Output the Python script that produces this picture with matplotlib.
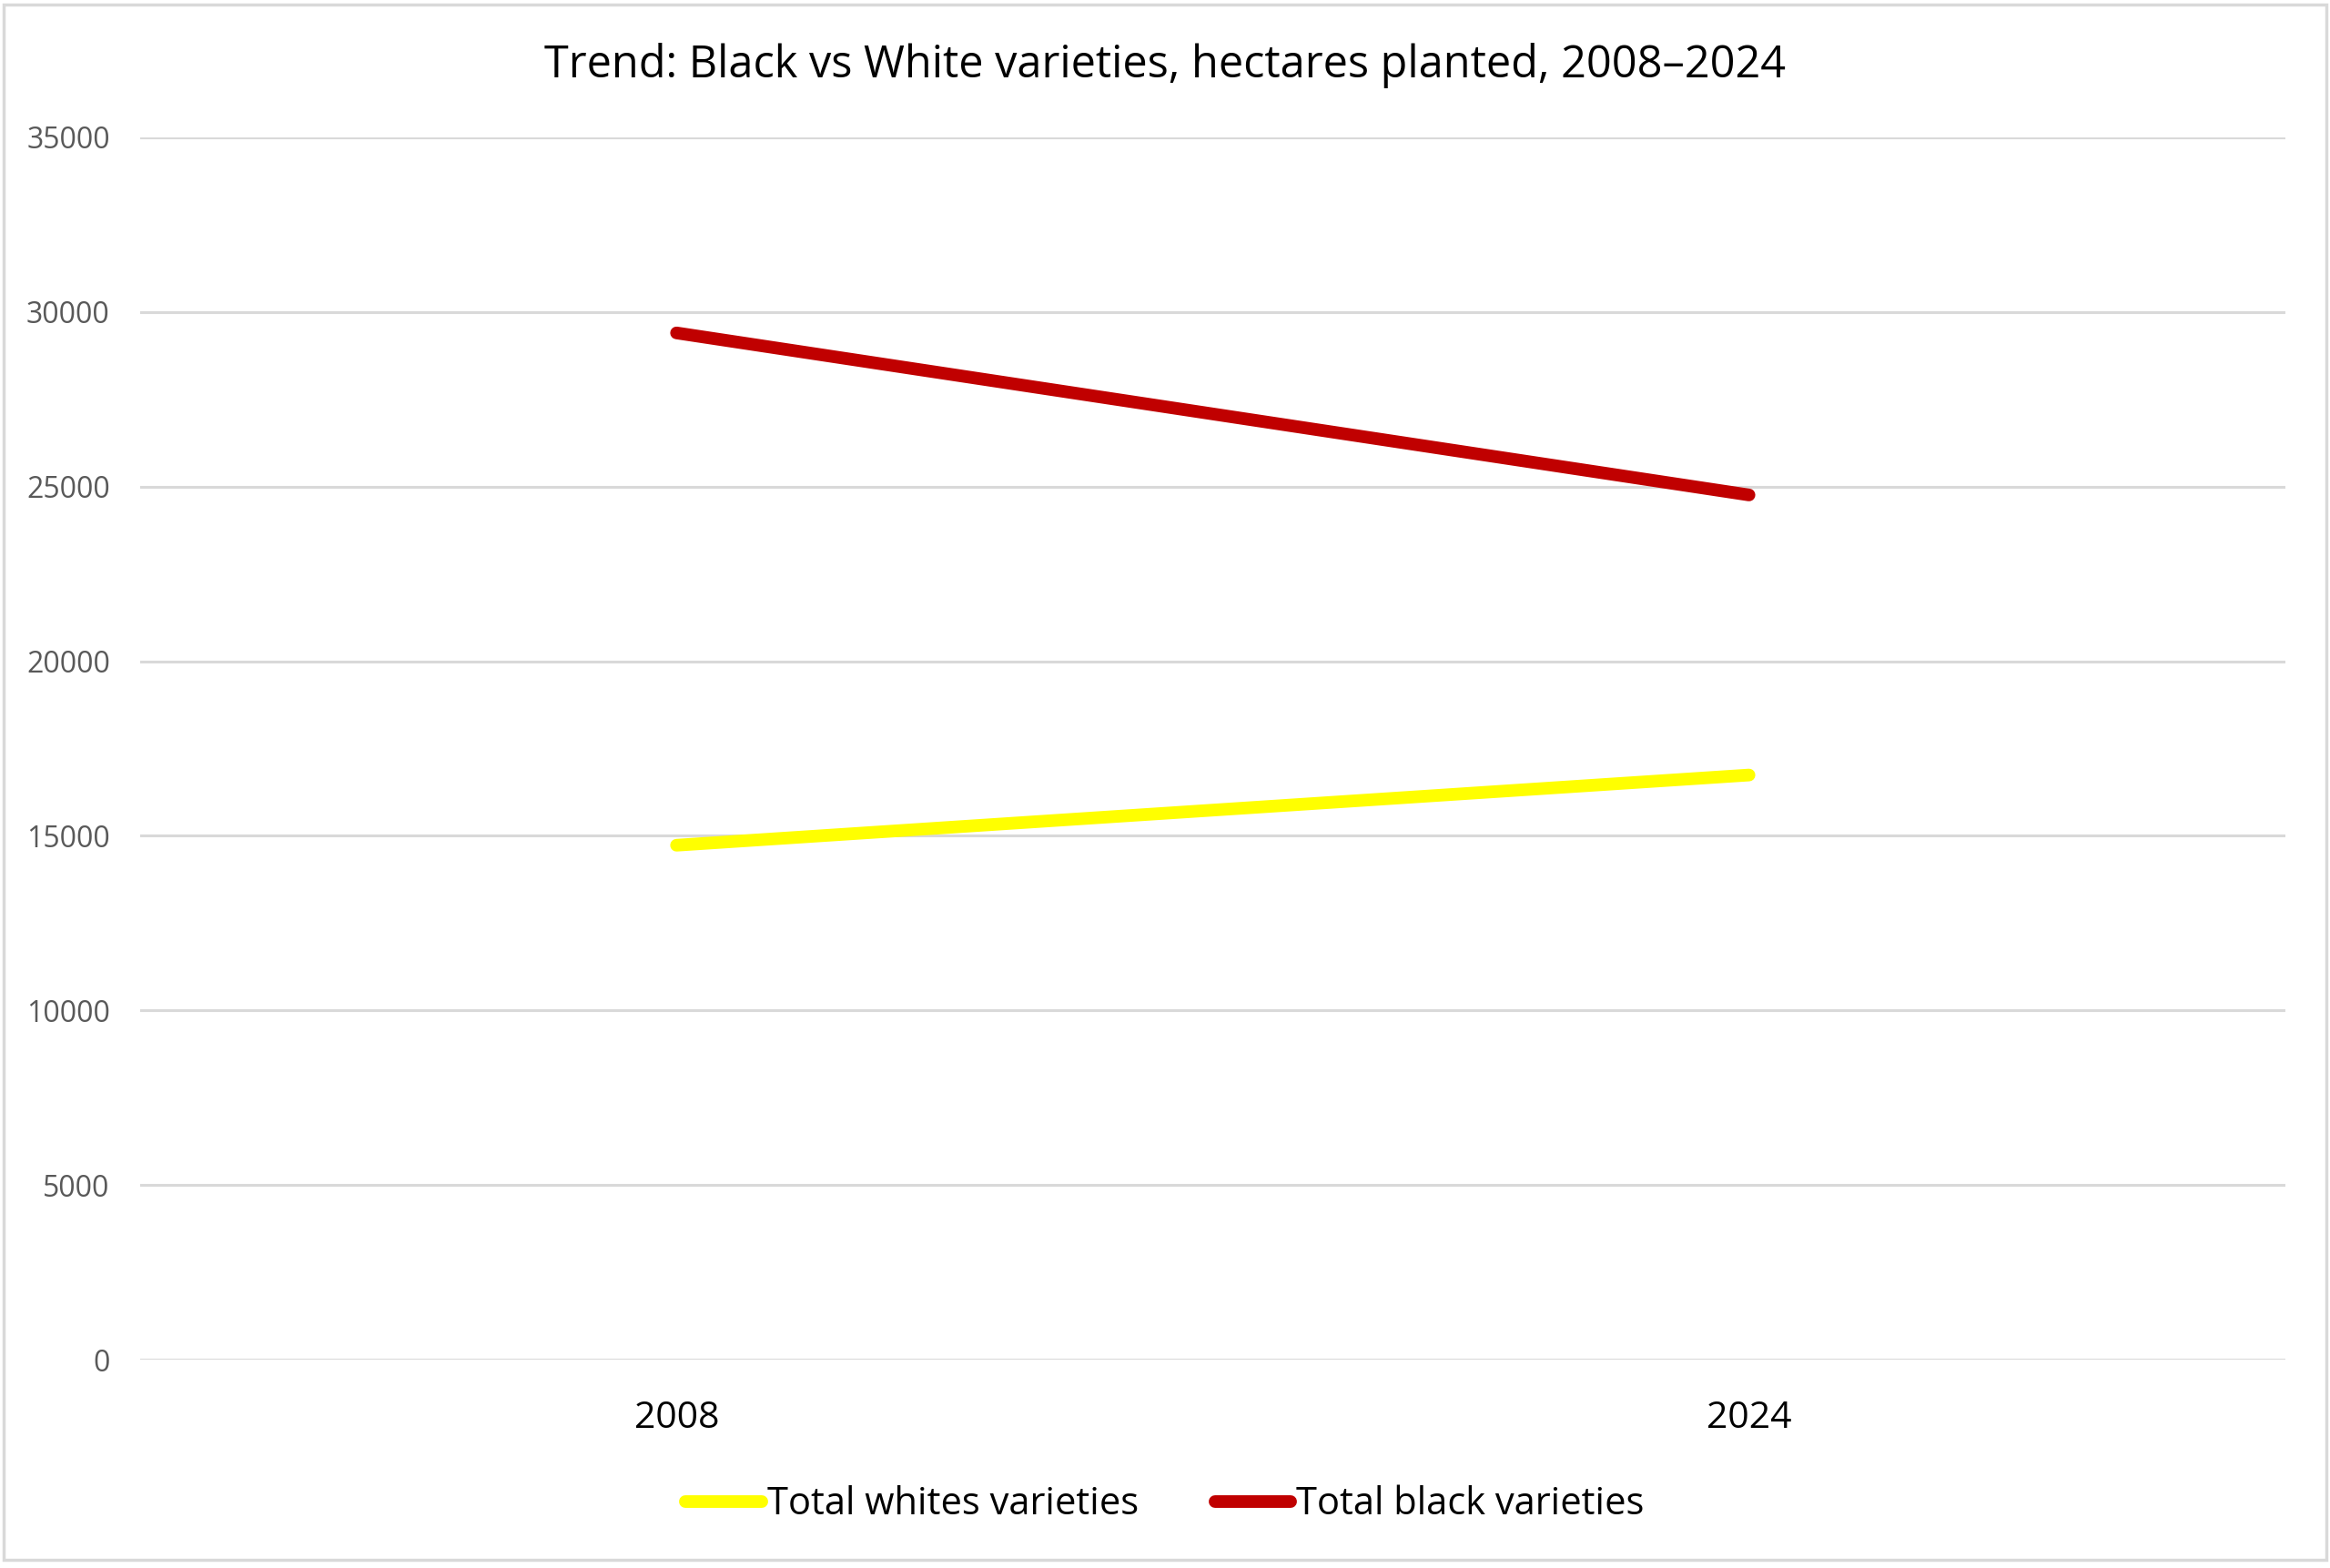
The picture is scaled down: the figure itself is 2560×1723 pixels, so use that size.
import matplotlib
matplotlib.use("Agg")
import matplotlib.pyplot as plt
from matplotlib.patches import Rectangle

# data
years = ["2008", "2024"]
whites = [14730, 16740]
blacks = [29400, 24760]
series_names = ["Total whites varieties", "Total black varieties"]
yticks = [0, 5000, 10000, 15000, 20000, 25000, 30000, 35000]

plt.rcParams['font.family'] = ['Open Sans', 'DejaVu Sans']

fig = plt.figure(figsize=(25.6, 17.23), dpi=100)
ax = fig.add_axes([0.0602, 0.1329, 0.9206, 0.7795])

x = list(range(len(years)))
ax.plot(x, whites, color='#FFFF00', lw=10, solid_capstyle='round', label=series_names[0], zorder=3)
ax.plot(x, blacks, color='#C00000', lw=10, solid_capstyle='round', label=series_names[1], zorder=3)

ax.set_xlim(-0.5, len(years) - 0.5)
ax.set_ylim(0, 35000)
ax.set_yticks(yticks)
ax.set_yticklabels([str(v) for v in yticks])
ax.set_xticks(x)
ax.set_xticklabels(years)

ax.grid(axis='y', color='#d9d9d9', lw=2.2)
ax.set_axisbelow(True)
for s in ax.spines.values():
    s.set_visible(False)
ax.tick_params(axis='y', length=0, pad=24, labelsize=23, labelcolor='#595959')
ax.tick_params(axis='x', length=0, pad=32, labelsize=29.5, labelcolor='black')

fig.text(0.5, 0.9585, "Trend: Black vs White varieties, hectares planted, 2008\u20132024",
         ha='center', va='center', fontsize=35, color='black')

leg = fig.legend(loc='center', bbox_to_anchor=(0.5, 0.0405), ncol=2, frameon=False,
                 fontsize=30, handlelength=2.0, handletextpad=0.15, columnspacing=2.0)

# light grey frame round the whole chart
fig.patches.append(Rectangle((0.0017, 0.005), 0.9966, 0.992, transform=fig.transFigure,
                             fill=False, edgecolor='#d9d9d9', lw=2.5))

fig.savefig("out.png", dpi=100, facecolor='white')
